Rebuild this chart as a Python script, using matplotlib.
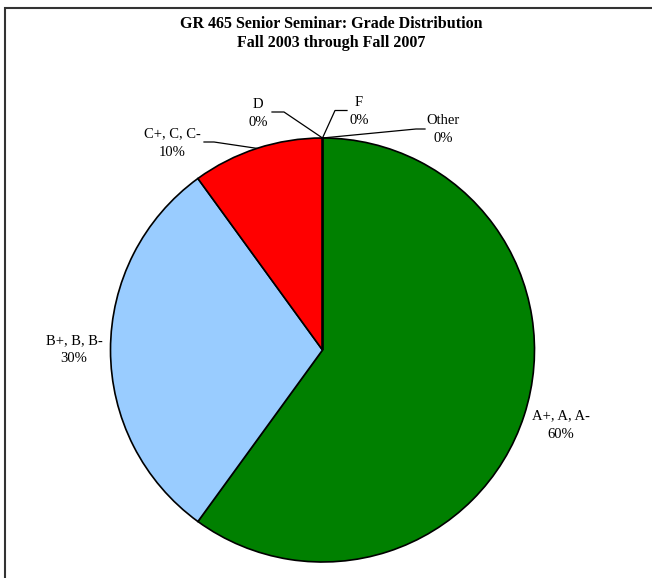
import numpy as np
import matplotlib.pyplot as plt
from matplotlib.patches import Rectangle

# grade data
grades = ['A+, A, A-', 'B+, B, B-', 'C+, C, C-', 'D', 'F', 'Other']
shares = [60, 30, 10, 0, 0, 0]
colors = ['#008000', '#99CCFF', '#FF0000', '#FFFF99', '#CC99FF', '#FFCC99']
title = 'GR 465 Senior Seminar: Grade Distribution\nFall 2003 through Fall 2007'

plt.rcParams['font.family'] = ['Liberation Serif', 'DejaVu Serif']

W, H = 652, 578
cx, cy, R = 322.5, 350, 212  # pie centre and radius in pixels

fig = plt.figure(figsize=(W / 100, H / 100), dpi=100)
ax = fig.add_axes([0, 0, 1, 1])

wedges, _ = ax.pie(shares, colors=colors, startangle=90, counterclock=False,
                   radius=1, wedgeprops=dict(edgecolor='black', linewidth=1.2))
ax.set_xlim(-cx / R, (W - cx) / R)
ax.set_ylim(-(H - cy) / R, cy / R)
ax.axis('off')


def px(x, y):
    # pixel position -> data coords
    return (x - cx) / R, (cy - y) / R


# label centres (pixels) and leader line points, label side first
label_pos = {
    'A+, A, A-': (561, 425, None),
    'B+, B, B-': (74, 350, None),
    'C+, C, C-': (172, 143, [(204, 142), (214, 142)]),
    'D': (258, 113, [(272, 112), (284, 112)]),
    'F': (359, 111, [(347, 110.5), (335, 110.5)]),
    'Other': (443, 130, [(425, 129), (416, 129)]),
}

for w, name, val in zip(wedges, grades, shares):
    lx, ly, elbows = label_pos[name]
    tx, ty = px(lx, ly)
    ax.text(tx, ty, f'{name}\n{val}%', ha='center', va='center', fontsize=10.5,
            linespacing=1.5)
    if elbows:
        mid = np.deg2rad((w.theta1 + w.theta2) / 2)
        ex, ey = np.cos(mid), np.sin(mid)
        pts = [px(*p) for p in elbows] + [(ex, ey)]
        xs, ys = zip(*pts)
        ax.plot(xs, ys, color='black', lw=0.9)

fig.text(331 / W, 1 - 33.5 / H, title, ha='center', va='center', fontsize=11.5,
         fontweight='bold', linespacing=1.2)

fig.patches.append(Rectangle((5 / W, -0.1), 1.2, 1 - 8 / H + 0.1,
                             transform=fig.transFigure, fill=False,
                             edgecolor='#333333', lw=1.5))

fig.savefig('out.png', dpi=100)
